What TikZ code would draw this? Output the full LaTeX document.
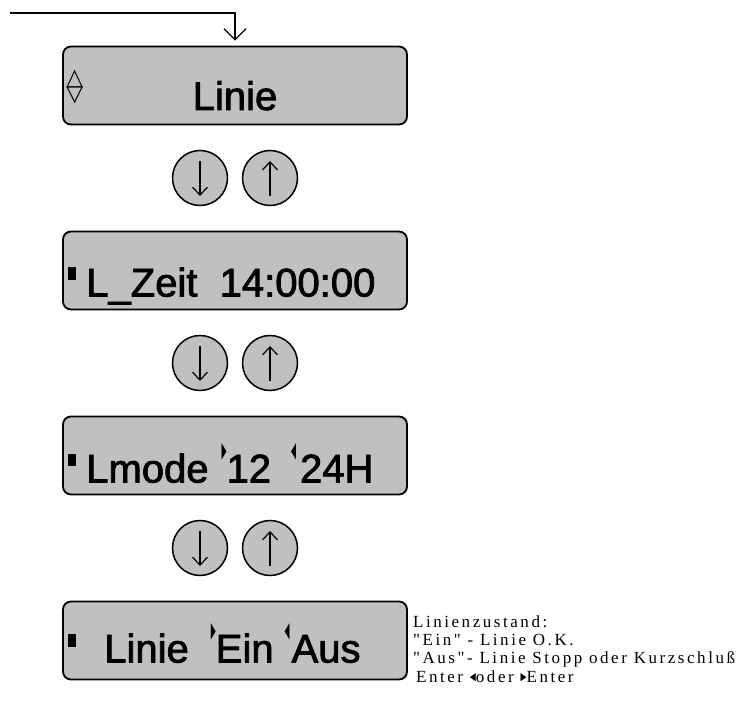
\documentclass[tikz,border=0pt]{standalone}
\usepackage{fontspec}
\setmainfont{Liberation Sans}
\newfontfamily\lcdfont{Liberation Sans}[FakeBold=2]
\newfontfamily\notefont[LetterSpace=15]{Liberation Serif}
\newfontfamily\symfont{DejaVu Sans}
\usepackage{xcolor}
\usepackage{graphicx}
\usepackage{tikz}
\usetikzlibrary{shapes.geometric, arrows, arrows.meta, positioning}
\definecolor{lcdgray}{HTML}{C0C0C0}
\tikzstyle{display} = [rectangle, rounded corners=8pt, minimum width=344pt, minimum height=78pt, draw=black, line width=1.8pt, fill=lcdgray]
\tikzstyle{key} = [circle, minimum size=55pt, draw=black, line width=1.5pt, fill=lcdgray]
\tikzstyle{lcdtext} = [anchor=base west, inner sep=0pt, font=\lcdfont\fontsize{40}{48}\selectfont]
\tikzstyle{keyarrow} = [line width=1.2pt, -{Straight Barb[length=8pt, width=15pt]}]
\tikzstyle{arrow} = [line width=1.2pt, -{Straight Barb[length=11pt, width=22pt]}]
\newcommand{\cursor}{\rule[16pt]{8pt}{13pt}}
\newcommand{\rtri}{\raisebox{25pt}{\resizebox{5pt}{14pt}{\symfont ▶}}}
\newcommand{\ltri}{\raisebox{25pt}{\resizebox{5pt}{14pt}{\symfont ◀}}}
\newcommand{\notetri}[1]{\raisebox{2.5pt}{\resizebox{6pt}{7pt}{\symfont #1}}}

\begin{document}
\begin{tikzpicture}[x=1pt, y=1pt, node distance=92.5pt]
    \useasboundingbox (0,0) rectangle (746,704);
    \node (linie) [display] at (235,618.5) {};
    \node (dn1) [key, below of=linie, xshift=-35pt] {};
    \node (up1) [key, right of=dn1, xshift=-22.5pt] {};
    \node (zeit) [display, below of=dn1, xshift=35pt] {};
    \node (dn2) [key, below of=zeit, xshift=-35pt] {};
    \node (up2) [key, right of=dn2, xshift=-22.5pt] {};
    \node (lmode) [display, below of=dn2, xshift=35pt] {};
    \node (dn3) [key, below of=lmode, xshift=-35pt] {};
    \node (up3) [key, right of=dn3, xshift=-22.5pt] {};
    \node (zustand) [display, below of=dn3, xshift=35pt] {};

    \node (t1) [lcdtext, anchor=base] at ([yshift=-24.5pt]linie.center) {Linie};
    \node (t2) [lcdtext] at ([xshift=6pt, yshift=-26pt]zeit.west) {\cursor\hspace{10pt}L\_Zeit\ \ 14:00:00};
    \node (t3) [lcdtext] at ([xshift=6pt, yshift=-27pt]lmode.west) {\cursor\hspace{10pt}Lmode\hspace{13pt}\rtri 12\hspace{20pt}\ltri\hspace{4pt}24H};
    \node (t4) [lcdtext] at ([xshift=6pt, yshift=-22pt]zustand.west) {\cursor\hspace{28pt}Linie\hspace{22pt}\rtri Ein\hspace{11pt}\ltri\hspace{2pt}Aus};
    \node (note) [anchor=north west, inner sep=0pt, align=left, font=\notefont\fontsize{17}{18}\selectfont] at ([xshift=5pt, yshift=24.5pt]zustand.east) {Linienzustand:\\"Ein" - Linie O.K.\\"Aus"- Linie Stopp oder Kurzschluß\\[1pt]\hspace{3pt}Enter \notetri{◀}oder \notetri{▶}Enter};

    % up/down sign in the first display
    \draw [line width=1pt] ([xshift=5pt, yshift=-1.5pt]linie.west) -- ++(15,0) -- ++(-7.5,16) -- cycle;
    \draw [line width=1pt] ([xshift=5pt, yshift=-1.5pt]linie.west) -- ++(15,0) -- ++(-7.5,-15) -- cycle;

    \coordinate (feed) at (10,691);
    \draw [arrow] (feed) -| ([yshift=5pt]linie.north);

    \draw [keyarrow] ([yshift=17pt]dn1.center) -- ([yshift=-18pt]dn1.center);
    \draw [keyarrow] ([yshift=-18pt]up1.center) -- ([yshift=17pt]up1.center);
    \draw [keyarrow] ([yshift=17pt]dn2.center) -- ([yshift=-18pt]dn2.center);
    \draw [keyarrow] ([yshift=-18pt]up2.center) -- ([yshift=17pt]up2.center);
    \draw [keyarrow] ([yshift=17pt]dn3.center) -- ([yshift=-18pt]dn3.center);
    \draw [keyarrow] ([yshift=-18pt]up3.center) -- ([yshift=17pt]up3.center);
  \end{tikzpicture}
\end{document}
